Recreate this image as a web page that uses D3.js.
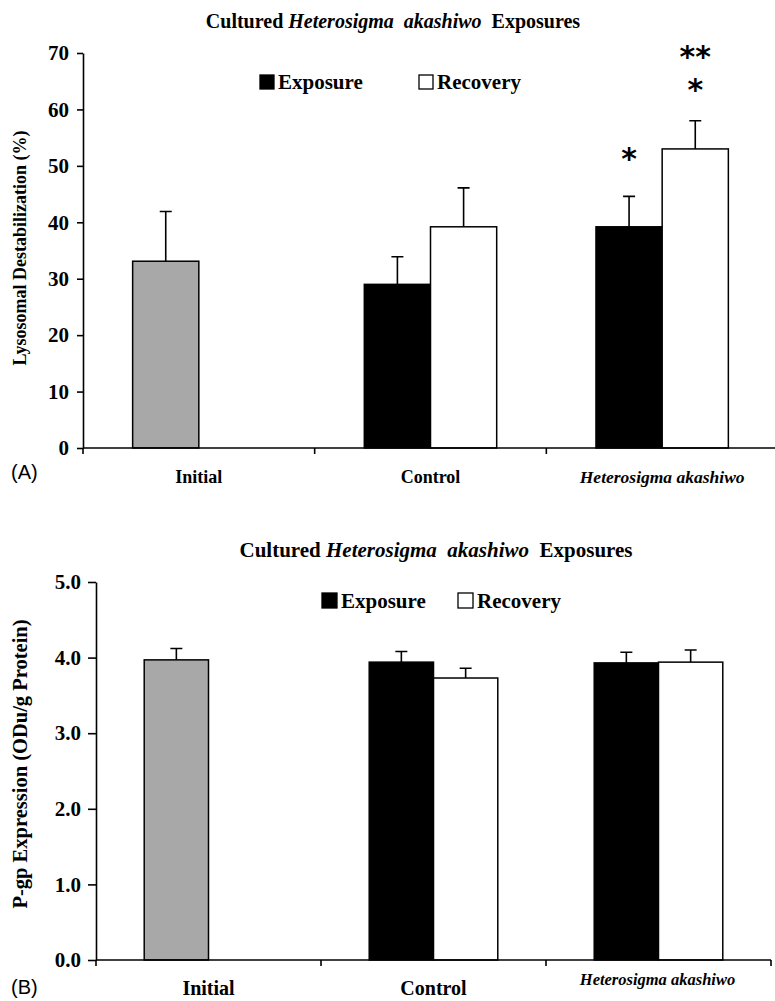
<!DOCTYPE html>
<html lang="en">
<head>
<meta charset="UTF-8">
<title>Heterosigma akashiwo exposures</title>
<style>
    body { margin: 0; background: #fff; }
    svg { display: block; font-family: "Liberation Serif", "Times New Roman", serif; }
    .ttl { white-space: pre; }
</style>
</head>
<body>
<svg width="775" height="1001"></svg>
<script src="https://d3js.org/d3.v7.min.js"></script>
<script>
    // categories and series
    const categories = ["Initial", "Control", "Heterosigma akashiwo"];
    const seriesNames = ["Exposure", "Recovery"];

    // panel A: lysosomal destabilization (%)
    const lysoExposure = [33.1, 29.0, 39.2];
    const lysoExposureErr = [8.8, 4.9, 5.4];
    const lysoRecovery = [null, 39.2, 53.0];
    const lysoRecoveryErr = [null, 6.9, 5.0];
    const lysoTicks = [0, 10, 20, 30, 40, 50, 60, 70];

    // panel B: P-gp expression (ODu/g protein)
    const pgpExposure = [3.97, 3.94, 3.93];
    const pgpExposureErr = [0.15, 0.14, 0.14];
    const pgpRecovery = [null, 3.73, 3.94];
    const pgpRecoveryErr = [null, 0.13, 0.16];
    const pgpTicks = [0, 1, 2, 3, 4, 5];

    const svg = d3.select("svg");

    function drawPanel(p) {
        const g = svg.append("g");
        const y = d3.scaleLinear().domain([0, p.ymax]).range([p.y0, p.y1]);
        const x = d3.scaleBand().domain(categories).range([p.x0, p.x1]);
        const bw = x.bandwidth() / 3.5;   // excel style gap width 150%

        // bars
        const rows = [];
        categories.forEach((c, i) => {
            const left = x(c) + x.bandwidth() / 2 - bw;
            if (p.exp[i] != null) rows.push({c, i, s: 0, v: p.exp[i], e: p.expErr[i], x: left});
            if (p.rec[i] != null) rows.push({c, i, s: 1, v: p.rec[i], e: p.recErr[i], x: left + bw});
        });

        // error bars (drawn first, bar covers lower half)
        g.selectAll(".err").data(rows).enter().append("path")
            .attr("fill", "none").attr("stroke", "#000").attr("stroke-width", 1.6)
            .attr("d", d => {
                const cx = d.x + bw / 2;
                return `M${cx},${y(d.v)}V${y(d.v + d.e)}M${cx - 6},${y(d.v + d.e)}H${cx + 6}`;
            });

        g.selectAll(".bar").data(rows).enter().append("rect")
            .attr("x", d => d.x)
            .attr("y", d => y(d.v))
            .attr("width", bw)
            .attr("height", d => y(0) - y(d.v))
            .attr("fill", d => d.i === 0 ? "#a8a8a8" : (d.s === 0 ? "#000" : "#fff"))
            .attr("stroke", "#000")
            .attr("stroke-width", 1.5);

        // y axis
        const yAxis = d3.axisLeft(y).tickValues(p.ticks).tickFormat(p.fmt)
            .tickSize(p.tickLen).tickSizeOuter(0).tickPadding(p.tickPad);
        const ya = g.append("g").attr("transform", `translate(${p.x0},0)`).call(yAxis)
            .attr("font-family", null).attr("font-size", null);
        ya.selectAll("text").attr("font-size", p.tickFont).attr("font-weight", "bold").attr("fill", "#000");
        ya.selectAll("line, path").attr("stroke", "#000").attr("stroke-width", 1.6);

        // x axis with ticks at category boundaries
        g.append("line").attr("x1", p.x0).attr("x2", p.x1).attr("y1", y(0)).attr("y2", y(0))
            .attr("stroke", "#000").attr("stroke-width", 1.6);
        const bounds = categories.map(c => x(c)).concat([p.x1]);
        g.selectAll(".xt").data(bounds).enter().append("line")
            .attr("x1", d => d).attr("x2", d => d)
            .attr("y1", y(0)).attr("y2", y(0) + 6)
            .attr("stroke", "#000").attr("stroke-width", 1.6);

        g.selectAll(".xl").data(categories).enter().append("text")
            .attr("x", d => x(d) + x.bandwidth() / 2 + (d === categories[2] ? p.hetDx : 0))
            .attr("y", d => d === categories[2] ? p.hetY : p.catY)
            .attr("text-anchor", "middle")
            .attr("font-weight", "bold")
            .attr("font-style", d => d === categories[2] ? "italic" : "normal")
            .attr("font-size", d => d === categories[2] ? p.hetFont : p.catFont)
            .text(d => d);

        // title
        const t = g.append("text").attr("class", "ttl").attr("x", p.titleX).attr("y", p.titleY)
            .attr("text-anchor", "middle").attr("font-weight", "bold").attr("font-size", p.titleFont);
        t.append("tspan").text("Cultured ");
        t.append("tspan").attr("font-style", "italic").text("Heterosigma  akashiwo");
        t.append("tspan").text("  Exposures");

        // legend
        const lg = g.append("g").attr("transform", `translate(${p.legX},${p.legY})`);
        seriesNames.forEach((s, i) => {
            const ox = i * p.legGap;
            lg.append("rect").attr("x", ox).attr("y", -p.legBox).attr("width", p.legBox).attr("height", p.legBox)
                .attr("fill", i === 0 ? "#000" : "#fff").attr("stroke", "#000").attr("stroke-width", 1.3);
            lg.append("text").attr("x", ox + p.legBox + 4).attr("y", 0)
                .attr("font-weight", "bold").attr("font-size", p.legFont).text(s);
        });

        // y axis title
        g.append("text")
            .attr("transform", `translate(${p.ylabX},${p.ylabY}) rotate(-90)`)
            .attr("text-anchor", "middle").attr("font-weight", "bold").attr("font-size", p.ylabFont)
            .text(p.ylab);

        // panel letter
        g.append("text").attr("x", 11).attr("y", p.letterY)
            .attr("font-family", "'Liberation Sans', Arial, sans-serif").attr("font-size", 20)
            .text(p.letter);

        return {x, y, bw, rows};
    }

    const a = drawPanel({
        x0: 83, x1: 778, y0: 448, y1: 53, ymax: 70,
        exp: lysoExposure, expErr: lysoExposureErr, rec: lysoRecovery, recErr: lysoRecoveryErr,
        ticks: lysoTicks, fmt: d3.format("d"), tickFont: 21, tickLen: 6, tickPad: 8,
        catY: 483, catFont: 18, hetY: 483, hetFont: 17.5, hetDx: 0,
        titleX: 393, titleY: 28, titleFont: 20,
        legX: 260, legY: 89, legBox: 14, legGap: 159, legFont: 21,
        ylab: "Lysosomal Destabilization (%)", ylabX: 26, ylabY: 248, ylabFont: 18,
        letter: "(A)", letterY: 479
    });

    // significance markers above H. akashiwo bars
    const het = categories[2];
    const hExp = a.rows.find(d => d.c === het && d.s === 0);
    const hRec = a.rows.find(d => d.c === het && d.s === 1);
    const stars = [
        {r: hExp, txt: "*", dy: 44},
        {r: hRec, txt: "*", dy: 38},
        {r: hRec, txt: "**", dy: 71}
    ];
    svg.append("g").selectAll("text").data(stars).enter().append("text")
        .attr("x", d => d.r.x + a.bw / 2)
        .attr("y", d => a.y(d.r.v + d.r.e) - d.dy + 17)
        .attr("text-anchor", "middle")
        .attr("font-family", "'DejaVu Sans', sans-serif")
        .attr("font-weight", "bold")
        .attr("font-size", 30)
        .text(d => d.txt);

    drawPanel({
        x0: 96, x1: 771, y0: 960, y1: 582, ymax: 5,
        exp: pgpExposure, expErr: pgpExposureErr, rec: pgpRecovery, recErr: pgpRecoveryErr,
        ticks: pgpTicks, fmt: d3.format(".1f"), tickFont: 21, tickLen: 8, tickPad: 7,
        catY: 995, catFont: 20, hetY: 985, hetFont: 16.5, hetDx: -1,
        titleX: 436, titleY: 557, titleFont: 21,
        legX: 322, legY: 608, legBox: 15, legGap: 136, legFont: 21,
        ylab: "P-gp Expression (ODu/g Protein)", ylabX: 27, ylabY: 764, ylabFont: 20.5,
        letter: "(B)", letterY: 994
    });
</script>
</body>
</html>
